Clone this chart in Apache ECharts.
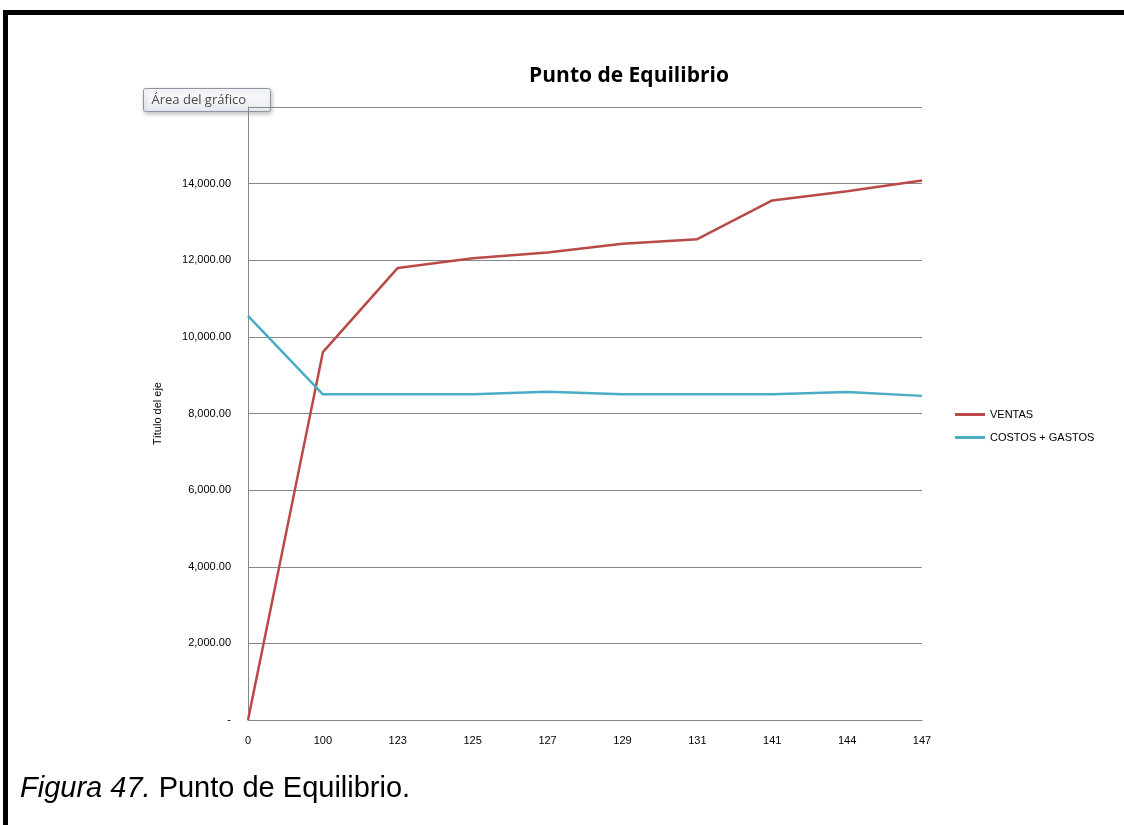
<!DOCTYPE html>
<html>
<head>
<meta charset="utf-8">
<title>Punto de Equilibrio</title>
<script src="https://cdn.jsdelivr.net/npm/echarts@6/dist/echarts.min.js"></script>
<style>
  html, body { margin: 0; padding: 0; background: #fff; }
  #frame {
    position: absolute; left: 3px; top: 10px; width: 1200px; height: 900px;
    border-left: 5px solid #000; border-top: 5px solid #000;
  }
  #chart { position: absolute; left: 0; top: 0; width: 1124px; height: 825px; }
</style>
</head>
<body>
<div id="frame"></div>
<div id="chart"></div>
<script>
// data
const categories = ['0', '100', '123', '125', '127', '129', '131', '141', '144', '147'];
const ventas = [0, 9600, 11800, 12050, 12200, 12430, 12550, 13560, 13800, 14080];
const costosGastos = [10550, 8500, 8500, 8500, 8570, 8500, 8500, 8500, 8560, 8460];
const yMax = 16000;
const yStep = 2000;

const chart = echarts.init(document.getElementById('chart'));
const axisFont = 'Liberation Sans, Arial, sans-serif';

const fmt = v => {
  if (v === 0) return '-';
  if (v === yMax) return '';
  return v.toLocaleString('en-US', { minimumFractionDigits: 2, maximumFractionDigits: 2 });
};

chart.setOption({
  backgroundColor: 'transparent',
  animation: false,
  title: {
    text: 'Punto de Equilibrio',
    left: 624,
    top: 61,
    textAlign: 'center',
    textStyle: { fontFamily: 'Open Sans, sans-serif', fontWeight: 'bold', fontSize: 21, color: '#000' },
  },
  legend: {
    orient: 'vertical',
    left: 950,
    top: 404,
    icon: 'rect',
    itemWidth: 30,
    itemHeight: 3,
    itemGap: 12,
    textStyle: { fontFamily: axisFont, fontSize: 11, color: '#000' },
    data: ['VENTAS', 'COSTOS + GASTOS'],
  },
  grid: { left: 248, right: 202, top: 107, bottom: 105 },
  xAxis: {
    type: 'category',
    boundaryGap: false,
    data: categories,
    axisLine: { lineStyle: { color: '#878787', width: 1 } },
    axisTick: { show: false },
    axisLabel: { fontFamily: axisFont, fontSize: 11, color: '#000', margin: 15 },
  },
  yAxis: {
    type: 'value',
    min: 0,
    max: yMax,
    interval: yStep,
    name: 'Título del eje',
    nameLocation: 'middle',
    nameGap: 85,
    nameTextStyle: { fontFamily: axisFont, fontSize: 11, color: '#000' },
    axisLine: { show: true, lineStyle: { color: '#878787', width: 1 } },
    axisTick: { show: false },
    axisLabel: { fontFamily: axisFont, fontSize: 11, color: '#000', margin: 17, formatter: fmt },
    splitLine: { lineStyle: { color: '#878787', width: 1 } },
  },
  series: [
    {
      name: 'VENTAS',
      type: 'line',
      symbol: 'none',
      lineStyle: { width: 2.5, color: '#BA4A47' },
      itemStyle: { color: '#BA4A47' },
      data: ventas,
    },
    {
      name: 'COSTOS + GASTOS',
      type: 'line',
      symbol: 'none',
      lineStyle: { width: 2.5, color: '#4BACC6' },
      itemStyle: { color: '#4BACC6' },
      data: costosGastos,
    },
  ],
  graphic: [
    {
      type: 'group',
      left: 143,
      top: 88,
      z: 100,
      children: [
        {
          type: 'rect',
          shape: { x: 0, y: 0, width: 127, height: 23, r: 2 },
          style: {
            fill: new echarts.graphic.LinearGradient(0, 0, 0, 1, [
              { offset: 0, color: '#ffffff' },
              { offset: 1, color: '#e6e9f0' },
            ]),
            stroke: '#8f96a3',
            lineWidth: 1,
            shadowBlur: 4,
            shadowOffsetX: 1,
            shadowOffsetY: 2,
            shadowColor: 'rgba(0,0,0,0.25)',
          },
        },
        {
          type: 'text',
          x: 8,
          y: 12,
          style: {
            text: 'Área del gráfico',
            fontFamily: 'Open Sans, sans-serif',
            fontSize: 13,
            fill: '#4a4a4a',
            verticalAlign: 'middle',
          },
        },
      ],
    },
    {
      type: 'text',
      left: 20,
      top: 774,
      style: {
        text: '{i|Figura 47.} Punto de Equilibrio.',
        fontFamily: axisFont,
        fontSize: 29,
        fill: '#000',
        rich: {
          i: { fontFamily: axisFont, fontSize: 29, fontStyle: 'italic', fill: '#000' },
        },
      },
    },
  ],
});
</script>
</body>
</html>
